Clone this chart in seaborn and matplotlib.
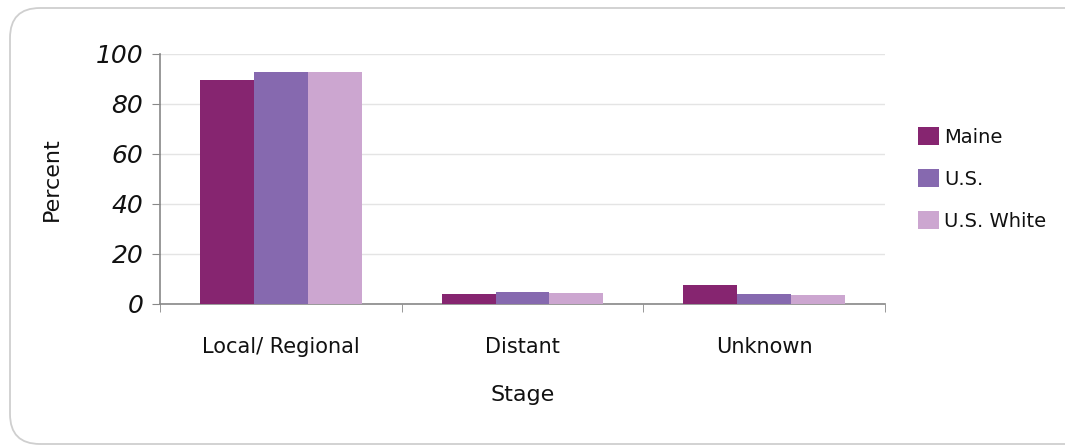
import numpy as np
import pandas as pd
import seaborn as sns
import matplotlib.pyplot as plt
from matplotlib.patches import FancyBboxPatch

stages = ["Local/ Regional", "Distant", "Unknown"]
groups = ["Maine", "U.S.", "U.S. White"]
maine = [89.5, 4.0, 7.5]
us = [92.6, 4.8, 3.9]
us_white = [92.9, 4.5, 3.7]
colors = ["#862570", "#8669AF", "#CCA6D0"]

df = pd.DataFrame({
    "Stage": stages * 3,
    "Percent": maine + us + us_white,
    "Group": [g for g in groups for _ in stages],
})

sns.set_style("white")
plt.rcParams["font.family"] = ["DejaVu Sans"]
plt.rcParams["text.color"] = "#111111"
plt.rcParams["xtick.color"] = "#111111"
plt.rcParams["ytick.color"] = "#111111"
plt.rcParams["axes.labelcolor"] = "#111111"

fig = plt.figure(figsize=(10.65, 4.45), dpi=100)
# rounded frame around the chart, running off the right edge
fig.patches.append(FancyBboxPatch((0.10, 0.01), 10.9, 4.36, boxstyle="round,pad=0,rounding_size=0.3",
                                  transform=fig.dpi_scale_trans, fill=False, ec="#cfcfcf", lw=1.3))
ax = fig.add_axes([0.1502, 0.3169, 0.6808, 0.5618])

sns.barplot(data=df, x="Stage", y="Percent", hue="Group", palette=colors, width=0.67,
            saturation=1, linewidth=0, ax=ax, zorder=3)

ax.set_ylim(0, 100)
ax.set_xlim(-0.5, 2.5)
ax.set_yticks(np.arange(0, 101, 20))
ax.yaxis.grid(True, color="#e4e4e4", lw=1, zorder=0)
ax.tick_params(axis="y", labelsize=18, length=6, color="#888888", left=True, pad=6)
for t in ax.get_yticklabels():
    t.set_fontstyle("italic")
ax.tick_params(axis="x", which="major", labelsize=15, length=0, pad=24)
ax.set_xticks([-0.5, 0.5, 1.5, 2.5], minor=True)
ax.tick_params(axis="x", which="minor", length=6, color="#888888", bottom=True)

for s in ["top", "right"]:
    ax.spines[s].set_visible(False)
for s in ["left", "bottom"]:
    ax.spines[s].set_color("#888888")
    ax.spines[s].set_linewidth(1.2)

ax.set_ylabel("Percent", fontsize=16, labelpad=24)
ax.set_xlabel("Stage", fontsize=16, labelpad=20)

ax.legend(title=None, frameon=False, fontsize=14, loc="center left", bbox_to_anchor=(1.035, 0.5),
          borderaxespad=0, handlelength=1.05, handleheight=1.05, handletextpad=0.3, labelspacing=1.15)

fig.savefig("out.png", dpi=100)
